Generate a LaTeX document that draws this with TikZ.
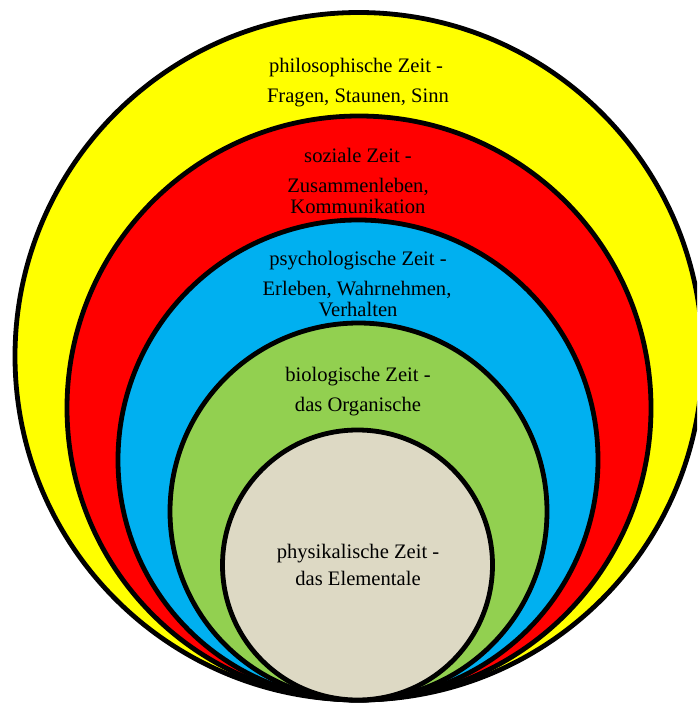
\documentclass[tikz,border=0pt]{standalone}
\usepackage{fontspec}
\setmainfont{Liberation Serif}
\definecolor{cyel}{HTML}{FFFF00}
\definecolor{cred}{HTML}{FF0000}
\definecolor{cblu}{HTML}{00B0F0}
\definecolor{cgrn}{HTML}{92D050}
\definecolor{cbei}{HTML}{DDD9C4}
\begin{document}
\begin{tikzpicture}[x=1pt,y=-1pt,
  ring/.style={draw=black,line width=4.8pt},
  lbl/.style={font=\fontsize{20.6}{22}\selectfont,inner sep=0pt,anchor=base}]
\useasboundingbox (0,0) rectangle (697,704);
\begin{scope}
\clip (0,0) rectangle (697,704);
\draw[ring,fill=cyel] (358.75,356.25) circle (343.75);
\draw[ring,fill=cred] (359,408) circle (292);
\draw[ring,fill=cblu] (358,460) circle (240);
\draw[ring,fill=cgrn] (358.5,511.5) circle (188.5);
\draw[ring,fill=cbei] (357.5,565) circle (135);
\end{scope}
\node[lbl] (p1) at (356,72) {philosophische Zeit -};
\node[lbl] (p2) at (358,102) {Fragen, Staunen, Sinn};
\node[lbl] (s1) at (358,162) {soziale Zeit -};
\node[lbl] (s2) at (358,192) {Zusammenleben,};
\node[lbl] (s3) at (358,213) {Kommunikation};
\node[lbl] (y1) at (358,265) {psychologische Zeit -};
\node[lbl] (y2) at (357,295) {Erleben, Wahrnehmen,};
\node[lbl] (y3) at (358,316) {Verhalten};
\node[lbl] (b1) at (358,381) {biologische Zeit -};
\node[lbl] (b2) at (358,411) {das Organische};
\node[lbl] (e1) at (358,558) {physikalische Zeit -};
\node[lbl] (e2) at (358,585) {das Elementale};
\end{tikzpicture}
\end{document}
